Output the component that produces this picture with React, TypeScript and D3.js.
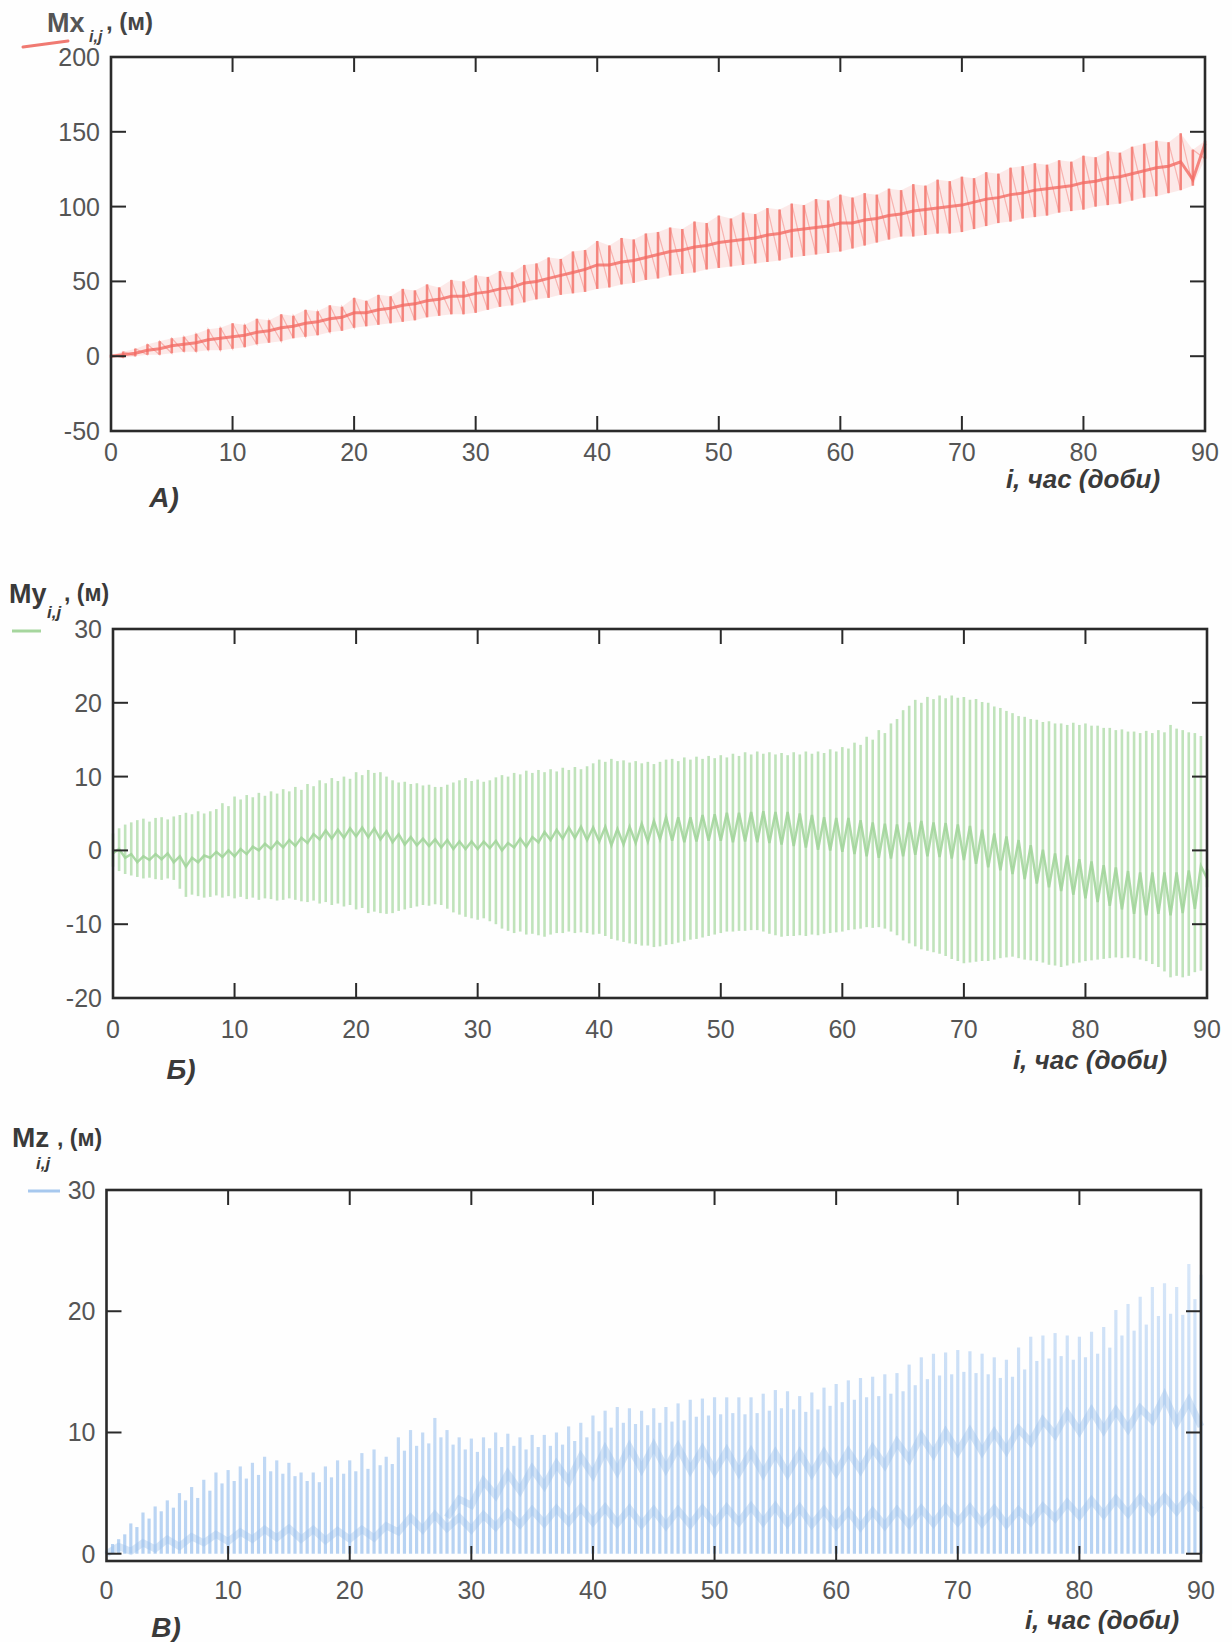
import React from "react";
import * as d3 from "d3";

const W = 1232;
const H = 1642;
const FONT = '"Liberation Sans", Arial, Helvetica, sans-serif';

// x positions: whole days (panel A, bands) and half days (panels B, C)
const days = d3.range(0, 91);
const halfDays = d3.range(0, 181).map((k) => k / 2);
const xTickValues = [0, 10, 20, 30, 40, 50, 60, 70, 80, 90];

// ---- panel A: Mx ----
const aHi = [
  1, 3, 5, 8, 10, 12, 13, 15, 18, 19, 22, 21, 25, 24, 28, 27, 31, 30, 34, 33,
  39, 37, 41, 40, 45, 44, 48, 46, 51, 50, 54, 53, 57, 56, 61, 62, 66, 65, 70, 71,
  77, 74, 79, 78, 82, 83, 86, 85, 90, 89, 94, 92, 96, 95, 99, 98, 102, 101, 105, 104,
  108, 106, 109, 108, 112, 111, 115, 114, 118, 117, 120, 119, 123, 122, 126, 127, 129, 128, 131, 130,
  134, 133, 137, 136, 140, 142, 144, 143, 149, 138, 144,
];
const aLo = [
  -1, -1, 0, 1, 1, 2, 3, 3, 4, 4, 5, 6, 8, 9, 10, 12, 13, 14, 16, 17,
  19, 20, 21, 22, 23, 24, 26, 27, 28, 28, 29, 31, 33, 34, 36, 38, 39, 41, 42, 43,
  45, 46, 48, 49, 51, 52, 54, 55, 56, 58, 59, 60, 61, 62, 63, 64, 66, 67, 68, 69,
  70, 72, 74, 76, 78, 80, 80, 81, 82, 82, 83, 85, 87, 89, 90, 92, 93, 94, 96, 97,
  98, 100, 101, 102, 104, 106, 107, 109, 111, 114, 132,
];
const aMid = [
  0, 1, 2, 4, 5, 7, 8, 9, 11, 12, 13, 14, 16, 17, 19, 20, 22, 23, 25, 26,
  29, 29, 31, 32, 34, 35, 37, 38, 40, 40, 42, 43, 45, 46, 49, 50, 52, 54, 56, 58,
  61, 61, 63, 64, 66, 68, 70, 71, 73, 74, 76, 77, 78, 79, 81, 82, 84, 85, 86, 87,
  89, 89, 91, 92, 94, 95, 97, 98, 99, 100, 101, 103, 105, 106, 108, 109, 111, 112, 113, 114,
  116, 117, 119, 120, 122, 124, 126, 127, 130, 118, 142,
];
const aYTicks = [200, 150, 100, 50, 0, -50];

// ---- panel B: My (half-day steps) ----
const bHi = [
  2.3, 3.0, 3.5, 3.8, 4.1, 4.3, 3.9, 4.4, 4.5, 4.2, 4.6, 4.8, 5.1, 4.9, 5.3, 5.0, 5.3, 5.6, 6.4, 6.0,
  7.3, 6.9, 7.5, 7.2, 7.8, 7.4, 8.0, 7.7, 8.3, 8.0, 8.6, 8.2, 9.0, 8.7, 9.5, 9.1, 9.8, 9.4, 10.0, 9.7,
  10.6, 10.2, 10.9, 10.5, 10.6, 10.0, 9.5, 9.2, 9.3, 9.0, 9.1, 8.8, 8.9, 8.6, 8.6, 8.9, 9.2, 9.5, 9.8, 9.4,
  9.6, 9.3, 9.5, 9.9, 10.2, 10.0, 10.5, 10.3, 10.8, 10.5, 10.9, 10.6, 11.0, 10.7, 11.2, 10.9, 11.3, 11.0, 11.4, 11.8,
  12.3, 12.0, 12.4, 12.1, 12.2, 11.9, 12.1, 11.8, 12.0, 11.7, 12.0, 12.3, 12.4, 12.1, 12.6, 12.3, 12.7, 12.4, 12.8, 12.5,
  12.9, 12.6, 13.1, 12.8, 13.3, 13.0, 13.4, 13.1, 13.3, 13.0, 13.2, 12.9, 13.3, 13.0, 13.4, 13.1, 13.4, 13.2, 13.7, 13.4,
  14.0, 13.8, 14.6, 14.3, 15.4, 15.0, 16.3, 15.9, 17.2, 17.8, 19.0, 19.6, 20.4, 20.0, 20.8, 20.5, 21.0, 20.6, 21.0, 20.7,
  20.8, 20.4, 20.5, 20.1, 20.0, 19.5, 19.3, 18.9, 18.6, 18.2, 18.1, 17.8, 17.7, 17.4, 17.5, 17.2, 17.2, 17.0, 17.3, 17.0,
  17.2, 16.9, 16.9, 16.6, 16.6, 16.3, 16.4, 16.1, 16.1, 15.9, 16.2, 15.9, 16.3, 16.0, 17.0, 16.5, 16.3, 16.0, 15.9, 15.5,
  -2.5,
];
const bLo = [
  -2.2, -2.8, -3.2, -3.4, -3.6, -3.8, -3.7, -3.9, -4.0, -3.8, -4.0, -5.2, -6.3, -6.0, -6.2, -6.4, -6.3, -6.1, -6.4, -6.2,
  -6.5, -6.3, -6.6, -6.4, -6.7, -6.5, -6.6, -6.8, -6.7, -6.5, -6.7, -6.9, -7.0, -6.8, -7.2, -7.0, -7.4, -7.2, -7.6, -7.4,
  -8.0, -7.8, -8.5, -8.3, -8.5, -8.6, -8.5, -8.2, -8.0, -7.8, -7.6, -7.4, -7.5, -7.3, -7.4, -7.9, -8.4, -8.7, -9.0, -9.2,
  -9.4, -9.2, -9.6, -10.0, -10.6, -10.9, -11.2, -11.0, -11.4, -11.3, -11.5, -11.7, -11.4, -11.2, -11.2, -11.0, -11.2, -11.1, -11.2, -11.4,
  -11.3, -11.6, -12.0, -12.2, -12.4, -12.6, -12.7, -12.9, -12.9, -13.1, -13.0, -12.8, -12.7, -12.5, -12.3, -12.1, -12.0, -11.8, -11.6, -11.4,
  -11.2, -11.0, -11.0, -10.9, -10.9, -10.8, -10.8, -11.0, -11.3, -11.5, -11.7, -11.6, -11.6, -11.5, -11.6, -11.4, -11.5, -11.3, -11.2, -11.1,
  -11.0, -10.8, -10.7, -10.6, -10.4, -10.5, -10.4, -10.6, -11.0, -11.5, -12.2, -12.6, -13.0, -13.4, -13.6, -13.8, -14.0, -14.3, -14.7, -15.0,
  -15.3, -15.2, -15.1, -15.0, -15.0, -14.8, -14.6, -14.5, -14.4, -14.6, -14.8, -14.9, -15.0, -15.2, -15.5, -15.6, -15.8, -15.6, -15.3, -15.2,
  -15.0, -14.9, -14.8, -14.7, -14.6, -14.5, -14.6, -14.5, -14.6, -14.8, -15.0, -15.4, -15.8, -16.4, -17.2, -17.0, -17.2, -17.0, -16.5, -16.3,
  -5.0,
];
const bMid = [
  -0.4, 0.2, -1.0, -0.5, -1.6, -0.8, -1.3, -0.5, -1.2, -0.4, -1.6, -0.8, -2.2, -1.0, -1.6, -0.7, -1.0, -0.2, -0.9, 0.0,
  -0.8, 0.2, -0.5, 0.5, 0.0, 0.9, 0.2, 1.2, 0.4, 1.4, 0.6, 1.7, 1.0, 2.2, 1.5, 2.7, 1.6, 2.8, 1.7, 3.0,
  1.9, 3.1, 1.8, 3.0, 1.5, 2.6, 1.1, 2.2, 0.8, 1.8, 0.7, 1.6, 0.6, 1.5, 0.4, 1.4, 0.2, 1.2, 0.2, 1.2,
  0.2, 1.2, 0.3, 1.3, 0.0, 1.0, 0.4, 1.6, 0.5, 1.8, 1.1, 2.5, 1.4, 2.8, 1.6, 3.1, 1.7, 3.2, 1.4, 3.1,
  1.2, 3.2, 0.7, 2.9, 0.8, 3.2, 1.0, 3.6, 1.2, 4.0, 1.5, 4.5, 1.3, 4.5, 1.1, 4.5, 1.2, 4.8, 1.3, 4.9,
  1.3, 5.1, 1.1, 5.1, 1.2, 5.2, 1.1, 5.3, 1.0, 5.2, 0.8, 5.2, 0.6, 5.0, 0.4, 4.8, 0.1, 4.5, 0.0, 4.4,
  -0.2, 4.4, -0.5, 4.1, -0.8, 3.8, -1.0, 3.6, -1.1, 3.5, -0.8, 3.8, -0.6, 4.0, -0.8, 3.8, -0.9, 3.7, -1.1, 3.5,
  -1.3, 3.3, -1.8, 2.8, -2.3, 2.3, -2.7, 1.9, -3.2, 1.4, -3.9, 0.7, -4.5, 0.1, -5.0, -0.4, -5.5, -0.7, -6.0, -1.2,
  -6.5, -1.5, -7.0, -2.0, -7.5, -2.3, -8.0, -2.8, -8.6, -3.0, -8.8, -3.0, -8.6, -3.0, -8.8, -3.0, -8.5, -2.7, -7.9, -2.1,
  -3.8,
];
const bYTicks = [30, 20, 10, 0, -10, -20];

// ---- panel C: Mz (half-day steps for the stems, whole days for the bands) ----
const cHi = [
  0.2, 0.8, 1.2, 1.6, 2.5, 2.2, 3.4, 2.9, 3.9, 3.5, 4.4, 3.8, 5.0, 4.4, 5.5, 4.6, 6.1, 5.2, 6.7, 5.8,
  6.9, 6.0, 7.2, 6.2, 7.5, 6.5, 8.0, 6.8, 7.7, 6.6, 7.5, 6.4, 6.7, 6.0, 6.7, 5.9, 7.2, 6.3, 7.7, 6.6,
  7.7, 6.8, 8.3, 7.0, 8.6, 7.3, 8.0, 7.4, 9.6, 8.5, 10.2, 8.9, 10.0, 9.1, 11.2, 9.6, 10.2, 9.0, 9.6, 8.6,
  9.5, 8.4, 9.6, 8.7, 10.0, 8.8, 9.9, 8.9, 9.6, 8.6, 9.8, 8.8, 9.8, 8.9, 10.0, 9.0, 10.5, 9.3, 10.8, 9.6,
  11.4, 10.1, 11.8, 10.4, 12.1, 10.8, 12.0, 10.7, 11.8, 10.6, 12.0, 10.8, 12.1, 10.9, 12.4, 11.0, 12.7, 11.3, 12.8, 11.4,
  12.9, 11.5, 12.9, 11.6, 12.9, 11.5, 12.9, 11.6, 13.2, 11.8, 13.5, 12.0, 13.4, 11.9, 13.0, 11.7, 13.3, 11.9, 13.7, 12.2,
  14.0, 12.5, 14.3, 12.7, 14.5, 12.9, 14.6, 13.0, 14.8, 13.2, 14.9, 13.4, 15.6, 13.9, 16.2, 14.4, 16.5, 14.7, 16.6, 14.8,
  16.8, 15.0, 16.7, 14.9, 16.5, 14.8, 16.2, 14.5, 16.0, 14.6, 17.0, 15.2, 17.9, 15.9, 18.0, 16.1, 18.2, 16.3, 18.0, 16.0,
  17.9, 16.2, 18.3, 16.5, 18.7, 17.0, 20.1, 18.0, 20.6, 18.4, 21.2, 18.9, 22.0, 19.6, 22.3, 19.8, 22.0, 19.7, 23.9, 21.0,
  23.0,
];
const cBandLow = [
  0.0, 0.6, 0.2, 0.9, 0.4, 1.2, 0.6, 1.4, 0.9, 1.6, 1.0, 1.8, 1.2, 2.0, 1.3, 2.1, 1.2, 2.0, 1.1, 1.9,
  1.2, 2.0, 1.3, 2.3, 1.8, 3.0, 2.0, 3.2, 2.1, 3.0, 2.0, 3.2, 2.2, 3.4, 2.4, 3.6, 2.5, 3.7, 2.6, 3.8,
  2.6, 3.8, 2.5, 3.7, 2.4, 3.6, 2.3, 3.6, 2.4, 3.7, 2.5, 3.8, 2.6, 3.9, 2.6, 3.9, 2.5, 3.8, 2.4, 3.6,
  2.3, 3.5, 2.2, 3.5, 2.3, 3.6, 2.4, 3.7, 2.5, 3.8, 2.6, 3.8, 2.5, 3.7, 2.4, 3.6, 2.6, 3.9, 2.9, 4.2,
  3.1, 4.4, 3.2, 4.5, 3.3, 4.6, 3.4, 4.7, 3.5, 4.8, 3.6,
];
const cBandHigh: (number | null)[] = [
  null, null, null, null, null, null, null, null, null, null, null, null, null, null, null, null, null, null, null, null,
  null, null, null, null, null, null, null, null, 3.0, 4.5, 4.0, 6.0, 4.8, 6.6, 5.2, 7.0, 5.6, 7.4, 6.0, 8.0,
  6.5, 8.6, 6.8, 8.8, 7.0, 8.9, 7.0, 8.8, 6.9, 8.6, 6.8, 8.5, 6.7, 8.4, 6.6, 8.3, 6.6, 8.3, 6.6, 8.3,
  6.7, 8.4, 6.9, 8.7, 7.3, 9.2, 7.8, 9.7, 8.2, 10.0, 8.4, 10.1, 8.4, 10.0, 8.5, 10.3, 9.2, 11.0, 9.8, 11.6,
  10.1, 11.8, 10.2, 11.8, 10.3, 12.0, 11.0, 13.0, 10.8, 12.6, 10.5,
];
const cYTicks = [30, 20, 10, 0];

type Frame = { left: number; right: number; top: number; bottom: number; yMin: number; yMax: number };

function Axes({ f, yLabels, xLabelY, x, y }: { f: Frame; yLabels: number[]; xLabelY: number; x: d3.ScaleLinear<number, number>; y: d3.ScaleLinear<number, number> }) {
  const tick = 15;
  const innerX = xTickValues.filter((t) => t > 0 && t < 90);
  const innerY = yLabels.filter((t) => t > f.yMin + 0.5 && t < f.yMax);
  return (
    <g>
      <rect x={f.left} y={f.top} width={f.right - f.left} height={f.bottom - f.top} fill="none" stroke="#2a2a2a" strokeWidth={2.6} />
      {innerX.map((t) => (
        <g key={"xt" + t} stroke="#2a2a2a" strokeWidth={2}>
          <line x1={x(t)} x2={x(t)} y1={f.bottom} y2={f.bottom - tick} />
          <line x1={x(t)} x2={x(t)} y1={f.top} y2={f.top + tick} />
        </g>
      ))}
      {innerY.map((t) => (
        <g key={"yt" + t} stroke="#2a2a2a" strokeWidth={2}>
          <line x1={f.left} x2={f.left + tick} y1={y(t)} y2={y(t)} />
          <line x1={f.right} x2={f.right - tick} y1={y(t)} y2={y(t)} />
        </g>
      ))}
      {xTickValues.map((t) => (
        <text key={"xl" + t} x={x(t)} y={xLabelY} textAnchor="middle" fontSize={25} fill="#555" fontFamily={FONT}>
          {t}
        </text>
      ))}
      {yLabels.map((t) => (
        <text key={"yl" + t} x={f.left - 11} y={y(t) + 9} textAnchor="end" fontSize={25} fill="#555" fontFamily={FONT}>
          {t}
        </text>
      ))}
    </g>
  );
}

function AxisName({ x, y }: { x: number; y: number }) {
  return (
    <text x={x} y={y} textAnchor="middle" fontSize={26} fontWeight="bold" fontStyle="italic" fill="#3a3a3a" fontFamily={FONT}>
      i, час (доби)
    </text>
  );
}

function Letter({ x, y, s }: { x: number; y: number; s: string }) {
  return (
    <text x={x} y={y} textAnchor="middle" fontSize={28} fontWeight="bold" fontStyle="italic" fill="#3a3a3a" fontFamily={FONT}>
      {s}
    </text>
  );
}

export default function App() {
  // ---------- A ----------
  const fA: Frame = { left: 111, right: 1205, top: 57, bottom: 431, yMin: -50, yMax: 200 };
  const xA = d3.scaleLinear().domain([0, 90]).range([fA.left, fA.right]);
  const yA = d3.scaleLinear().domain([fA.yMin, fA.yMax]).range([fA.bottom, fA.top]);
  const midA = d3.line<number>().x((_, i) => xA(days[i])).y((d) => yA(d))(aMid) || "";
  const bandA =
    d3
      .area<number>()
      .x((d) => xA(d))
      .y0((_, i) => yA(aLo[i]))
      .y1((_, i) => yA(aHi[i]))(days) || "";
  // daily swing: low -> high each day, then down to the next day's low
  const sawA = d3
    .line<[number, number]>()
    .x((p) => xA(p[0]))
    .y((p) => yA(p[1]))(days.flatMap((d, i) => [[d, aLo[i]], [d, aHi[i]]] as [number, number][])) || "";

  // ---------- B ----------
  const fB: Frame = { left: 113, right: 1207, top: 629, bottom: 998, yMin: -20, yMax: 30 };
  const xB = d3.scaleLinear().domain([0, 90]).range([fB.left, fB.right]);
  const yB = d3.scaleLinear().domain([fB.yMin, fB.yMax]).range([fB.bottom, fB.top]);
  const midB = d3.line<number>().x((_, i) => xB(halfDays[i])).y((d) => yB(d))(bMid) || "";

  // ---------- C ----------
  const fC: Frame = { left: 106.5, right: 1201, top: 1190, bottom: 1561, yMin: -0.6, yMax: 30 };
  const xC = d3.scaleLinear().domain([0, 90]).range([fC.left, fC.right]);
  const yC = d3.scaleLinear().domain([fC.yMin, fC.yMax]).range([fC.bottom, fC.top]);
  const bandLine = d3
    .line<number | null>()
    .defined((d) => d !== null)
    .x((_, i) => xC(days[i]))
    .y((d) => yC(d as number));
  const bandLowC = bandLine(cBandLow) || "";
  const bandHighC = bandLine(cBandHigh) || "";

  return (
    <svg width={W} height={H} viewBox={`0 0 ${W} ${H}`} style={{ position: "absolute", left: 0, top: 0, background: "#fff" }}>
      <defs>
        <linearGradient id="cFade" gradientUnits="userSpaceOnUse" x1={0} x2={0} y1={yC(24)} y2={yC(0)}>
          <stop offset="0" stopColor="#d3e4f8" />
          <stop offset="1" stopColor="#aecdf1" />
        </linearGradient>
      </defs>
      <rect width={W} height={H} fill="#fefefe" />

      {/* ===== A ===== */}
      <g>
        <path d={bandA} fill="#f9c4c0" fillOpacity={0.35} stroke="none" />
        <path d={sawA} fill="none" stroke="#f5908a" strokeWidth={1.2} strokeOpacity={0.6} />
        {days.map((d, i) => (
          <line key={"a" + i} x1={xA(d)} x2={xA(d)} y1={yA(aLo[i])} y2={yA(aHi[i])} stroke="#f37a72" strokeWidth={2.6} strokeOpacity={0.85} />
        ))}
        <path d={midA} fill="none" stroke="#f26a63" strokeWidth={3} strokeOpacity={0.8} />
      </g>
      <Axes f={fA} yLabels={aYTicks} xLabelY={461} x={xA} y={yA} />
      <line x1={23} y1={47} x2={68} y2={41} stroke="#f07a72" strokeWidth={3} strokeLinecap="round" />
      <text x={47} y={32} fontSize={27} fontWeight="bold" fill="#555" fontFamily={FONT}>
        Mx
      </text>
      <text x={89} y={42} fontSize={16} fontWeight="bold" fontStyle="italic" fill="#444" fontFamily={FONT}>
        i,j
      </text>
      <text x={106} y={30} fontSize={24} fontWeight="bold" fill="#444" fontFamily={FONT}>
        , (м)
      </text>
      <Letter x={164} y={507} s="А)" />
      <AxisName x={1083} y={488} />

      {/* ===== B ===== */}
      <g>
        {halfDays.map((d, i) => (
          <line key={"b" + i} x1={xB(d)} x2={xB(d)} y1={yB(bLo[i])} y2={yB(bHi[i])} stroke="#b9e0b4" strokeWidth={2.6} strokeOpacity={0.9} />
        ))}
        <path d={midB} fill="none" stroke="#9fd398" strokeWidth={2.5} strokeOpacity={0.85} />
      </g>
      <Axes f={fB} yLabels={bYTicks} xLabelY={1038} x={xB} y={yB} />
      <line x1={12} y1={631} x2={41} y2={631} stroke="#a6d69e" strokeWidth={3} />
      <text x={9} y={603} fontSize={27} fontWeight="bold" fill="#3a3a3a" fontFamily={FONT}>
        My
      </text>
      <text x={47} y={618} fontSize={17} fontWeight="bold" fontStyle="italic" fill="#3a3a3a" fontFamily={FONT}>
        i,j
      </text>
      <text x={64} y={601} fontSize={23} fontWeight="bold" fill="#3a3a3a" fontFamily={FONT}>
        , (м)
      </text>
      <Letter x={181} y={1079} s="Б)" />
      <AxisName x={1090} y={1069} />

      {/* ===== C ===== */}
      <g>
        {halfDays.map((d, i) => (
          <line key={"c" + i} x1={xC(d)} x2={xC(d)} y1={yC(0)} y2={yC(cHi[i])} stroke="url(#cFade)" strokeWidth={3.2} strokeOpacity={0.9} />
        ))}
        <path d={bandLowC} fill="none" stroke="#9cc0ec" strokeWidth={7} strokeOpacity={0.4} />
        <path d={bandHighC} fill="none" stroke="#9cc0ec" strokeWidth={7} strokeOpacity={0.4} />
      </g>
      <Axes f={fC} yLabels={cYTicks} xLabelY={1599} x={xC} y={yC} />
      <line x1={28} y1={1191} x2={60} y2={1191} stroke="#a7c8ee" strokeWidth={3} />
      <text x={12} y={1147} fontSize={28} fontWeight="bold" fill="#3a3a3a" fontFamily={FONT}>
        Mz
      </text>
      <text x={36} y={1169} fontSize={17} fontWeight="bold" fontStyle="italic" fill="#3a3a3a" fontFamily={FONT}>
        i,j
      </text>
      <text x={57} y={1146} fontSize={23} fontWeight="bold" fill="#3a3a3a" fontFamily={FONT}>
        , (м)
      </text>
      <Letter x={166} y={1637} s="В)" />
      <AxisName x={1102} y={1629} />
    </svg>
  );
}
